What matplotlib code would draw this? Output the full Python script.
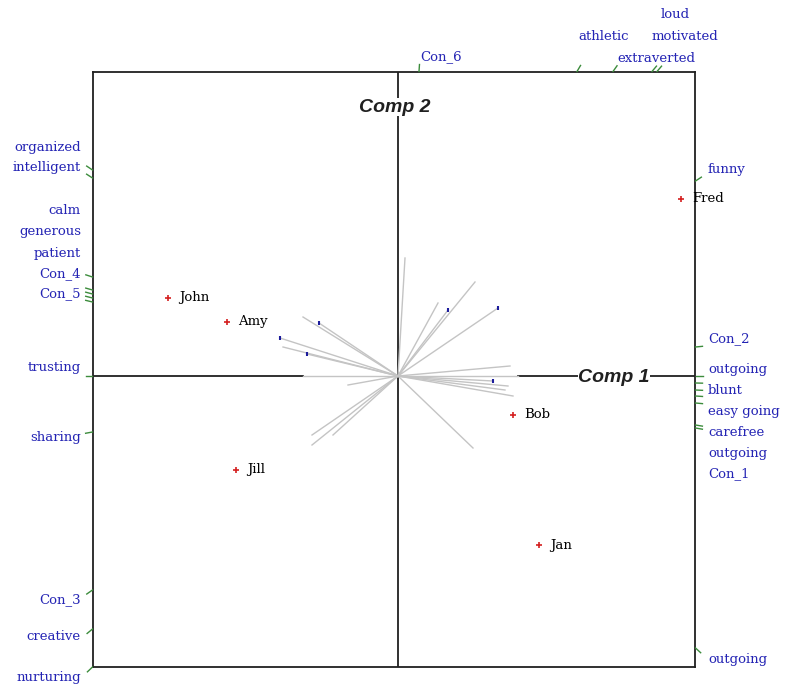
import numpy as np
import matplotlib.pyplot as plt

# object scores (Comp 1, Comp 2)
obj_names = ["Fred", "John", "Amy", "Bob", "Jill", "Jan"]
obj_x = [2.83, -2.30, -1.71, 1.15, -1.62, 1.41]
obj_y = [1.77, 0.78, 0.54, -0.39, -0.94, -1.69]

# variable loading vectors
vec_x = [0.07, 0.77, 0.40, 0.50, 1.00, -0.95, -0.79, -1.18, -1.15, -0.91,
         1.12, 1.20, 0.95, 1.10, 1.15, 1.07, -0.50, -0.86, -0.86, -0.65, 0.75, -0.95]
vec_y = [1.18, 0.94, 0.73, 0.66, 0.68, 0.59, 0.53, 0.38, 0.29, 0.22,
         0.10, 0.00, -0.05, -0.10, -0.20, -0.14, -0.09, -0.59, -0.69, -0.59, -0.72, 0.00]
# vectors whose tips carry a marker
tip_x = [-0.79, -1.18, -0.91, 0.50, 1.00, 0.95]
tip_y = [0.53, 0.38, 0.22, 0.66, 0.68, -0.05]

# where variable directions hit the frame
left_ticks = [2.06, 1.98, 0.99, 0.86, 0.82, 0.78, 0.74, 0.0, -0.56, -2.14, -2.53, -2.91]
right_ticks = [1.95, 0.29, 0.0, -0.07, -0.14, -0.20, -0.27, -0.49, -0.52, -2.72]
top_ticks = [0.21, 1.79, 2.15, 2.54, 2.59]

left_labels = ["organized", "intelligent", "calm", "generous", "patient", "Con_4",
               "Con_5", "trusting", "sharing", "Con_3", "creative", "nurturing"]
left_label_y = [2.29, 2.08, 1.66, 1.45, 1.23, 1.02, 0.82, 0.08, -0.61, -2.24, -2.60, -3.01]

right_labels = ["funny", "Con_2", "outgoing", "blunt", "easy going", "carefree",
                "outgoing", "Con_1", "outgoing"]
right_label_y = [2.07, 0.37, 0.07, -0.14, -0.35, -0.56, -0.77, -0.98, -2.83]

top_labels = ["Con_6", "athletic", "extraverted", "motivated", "loud"]
top_label_x = [0.22, 1.80, 2.19, 2.54, 2.63]
top_label_y = [3.19, 3.40, 3.18, 3.40, 3.62]

XMIN, XMAX = -3.05, 2.97
YMIN, YMAX = -2.91, 3.04

BLUE = "#2424b4"
GREEN = "#3c8c3c"
GRAY = "#c4c4c4"
SERIF = "DejaVu Serif"

fig = plt.figure(figsize=(7.86, 6.87), dpi=100)
ax = fig.add_axes([93 / 786, 1 - 667 / 687, 602 / 786, 595 / 687])
ax.set_xlim(XMIN, XMAX)
ax.set_ylim(YMIN, YMAX)
ax.set_xticks([])
ax.set_yticks([])
for sp in ax.spines.values():
    sp.set_linewidth(1.3)
    sp.set_color("#202020")

# axes through the origin
ax.plot([XMIN, -0.95], [0, 0], color="#202020", lw=1.3, zorder=1)
ax.plot([1.20, XMAX], [0, 0], color="#202020", lw=1.3, zorder=1)
ax.plot([0, 0], [YMIN, YMAX], color="#202020", lw=1.3, zorder=1)

for vx, vy in zip(vec_x, vec_y):
    ax.plot([0, vx], [0, vy], color=GRAY, lw=1.0, zorder=2)
ax.plot(tip_x, tip_y, ls="none", marker="|", ms=3, mew=1.5, color="#1c1c9c", zorder=3)

title_kw = dict(fontfamily="Liberation Sans", fontweight="bold", fontstyle="italic",
                fontsize=14, ha="center", va="center", color="#202020", zorder=4,
                bbox=dict(facecolor="white", edgecolor="none", pad=0.3))
ax.text(-0.035, 2.69, "Comp 2", **title_kw)
ax.text(2.16, -0.02, "Comp 1", **title_kw)

# objects
ax.plot(obj_x, obj_y, ls="none", marker="+", ms=5, mew=1.2, color="#d42020", zorder=5)
for name, x, y in zip(obj_names, obj_x, obj_y):
    ax.text(x + 0.11, y, name, fontfamily=SERIF, fontsize=9.5, ha="left",
            va="center", color="black", zorder=5)


def frame_tick(x, y):
    d = np.hypot(x, y)
    ux, uy = x / d, y / d
    ax.plot([x, x + 0.07 * ux], [y, y + 0.07 * uy], color=GREEN, lw=1.0,
            clip_on=False, zorder=6)


for y in left_ticks:
    frame_tick(XMIN - 0.005, y)
for y in right_ticks:
    frame_tick(XMAX + 0.005, y)
for x in top_ticks:
    frame_tick(x, YMAX + 0.005)

for name, y in zip(left_labels, left_label_y):
    ax.text(XMIN - 0.12, y, name, fontfamily=SERIF, fontsize=9.5, ha="right",
            va="center", color=BLUE, clip_on=False)
for name, y in zip(right_labels, right_label_y):
    ax.text(XMAX + 0.13, y, name, fontfamily=SERIF, fontsize=9.5, ha="left",
            va="center", color=BLUE, clip_on=False)
for name, x, y in zip(top_labels, top_label_x, top_label_y):
    ax.text(x, y, name, fontfamily=SERIF, fontsize=9.5, ha="left",
            va="center", color=BLUE, clip_on=False)

fig.savefig("out.png", dpi=100)
